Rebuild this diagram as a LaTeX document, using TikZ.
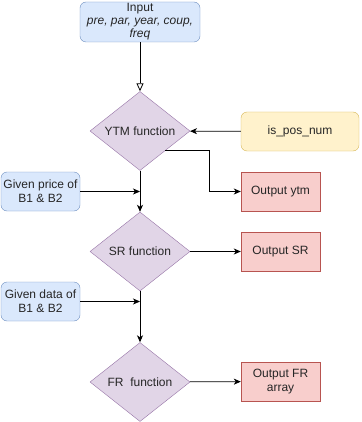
\documentclass[tikz,border=0pt]{standalone}
\usepackage{fontspec}
\setmainfont{Liberation Sans}
\usetikzlibrary{shapes.geometric,arrows.meta}
\definecolor{bluefill}{HTML}{DAE8FC}\definecolor{bluedraw}{HTML}{6C8EBF}
\definecolor{purpfill}{HTML}{E1D5E7}\definecolor{purpdraw}{HTML}{9673A6}
\definecolor{yelfill}{HTML}{FFF2CC}\definecolor{yeldraw}{HTML}{D6B656}
\definecolor{redfill}{HTML}{F8CECC}\definecolor{reddraw}{HTML}{B85450}
\tikzset{
  x=1pt, y=-1pt,
  every node/.style={font=\fontsize{12pt}{14pt}\selectfont, text=black!85, align=center, inner sep=0pt},
  inbox/.style={draw=bluedraw, fill=bluefill, rounded corners=6pt, minimum width=79pt, minimum height=39pt},
  decision/.style={diamond, draw=purpdraw, fill=purpfill, shape aspect=1.27, minimum width=100pt, minimum height=79pt},
  outbox/.style={draw=reddraw, fill=redfill, minimum width=79pt, minimum height=39pt},
  checkbox/.style={draw=yeldraw, fill=yelfill, rounded corners=6pt, minimum width=118pt, minimum height=39pt},
  flow/.style={draw=black, line width=0.8pt, -{Stealth[length=7pt,width=6pt,inset=2pt]}},
}
\begin{document}
\begin{tikzpicture}
\useasboundingbox (0,0) rectangle (361,422);
\node[inbox, minimum width=120pt, minimum height=40pt] (input) at (140,22)
  {Input\\[-1pt] \textit{pre, par, year, coup,}\\[-1pt] \textit{freq}};
\node[decision] (ytm) at (140,131) {YTM function};
\node[checkbox] (pos) at (300,131.5) {is\_pos\_num};
\node[outbox] (oytm) at (280.5,191.5) {Output ytm};
\node[inbox] (price) at (40.5,191.5) {Given price of\\B1 \& B2};
\node[decision] (sr) at (140,251.5) {SR function};
\node[outbox] (osr) at (280.5,251.5) {Output SR};
\node[inbox] (data) at (40.5,301.5) {Given data of\\B1 \& B2};
\node[decision] (fr) at (140,382) {FR\ \ function};
\node[outbox] (ofr) at (280.5,381.5) {Output FR\\array};

\draw[line width=0.8pt, -{Triangle[open,length=8pt,width=7pt]}] (input) -- (ytm);
\draw[flow] (pos) -- (ytm);
\draw[flow] (ytm.south east) -- ++(44,0) |- (oytm);
\draw[flow] (price) -- (price -| ytm.south);
\draw[flow] (ytm) -- (sr);
\draw[flow] (sr) -- (osr);
\draw[flow] (data) -- (data -| sr.south);
\draw[flow] (sr) -- (fr);
\draw[flow] (fr) -- (ofr);
\end{tikzpicture}
\end{document}
